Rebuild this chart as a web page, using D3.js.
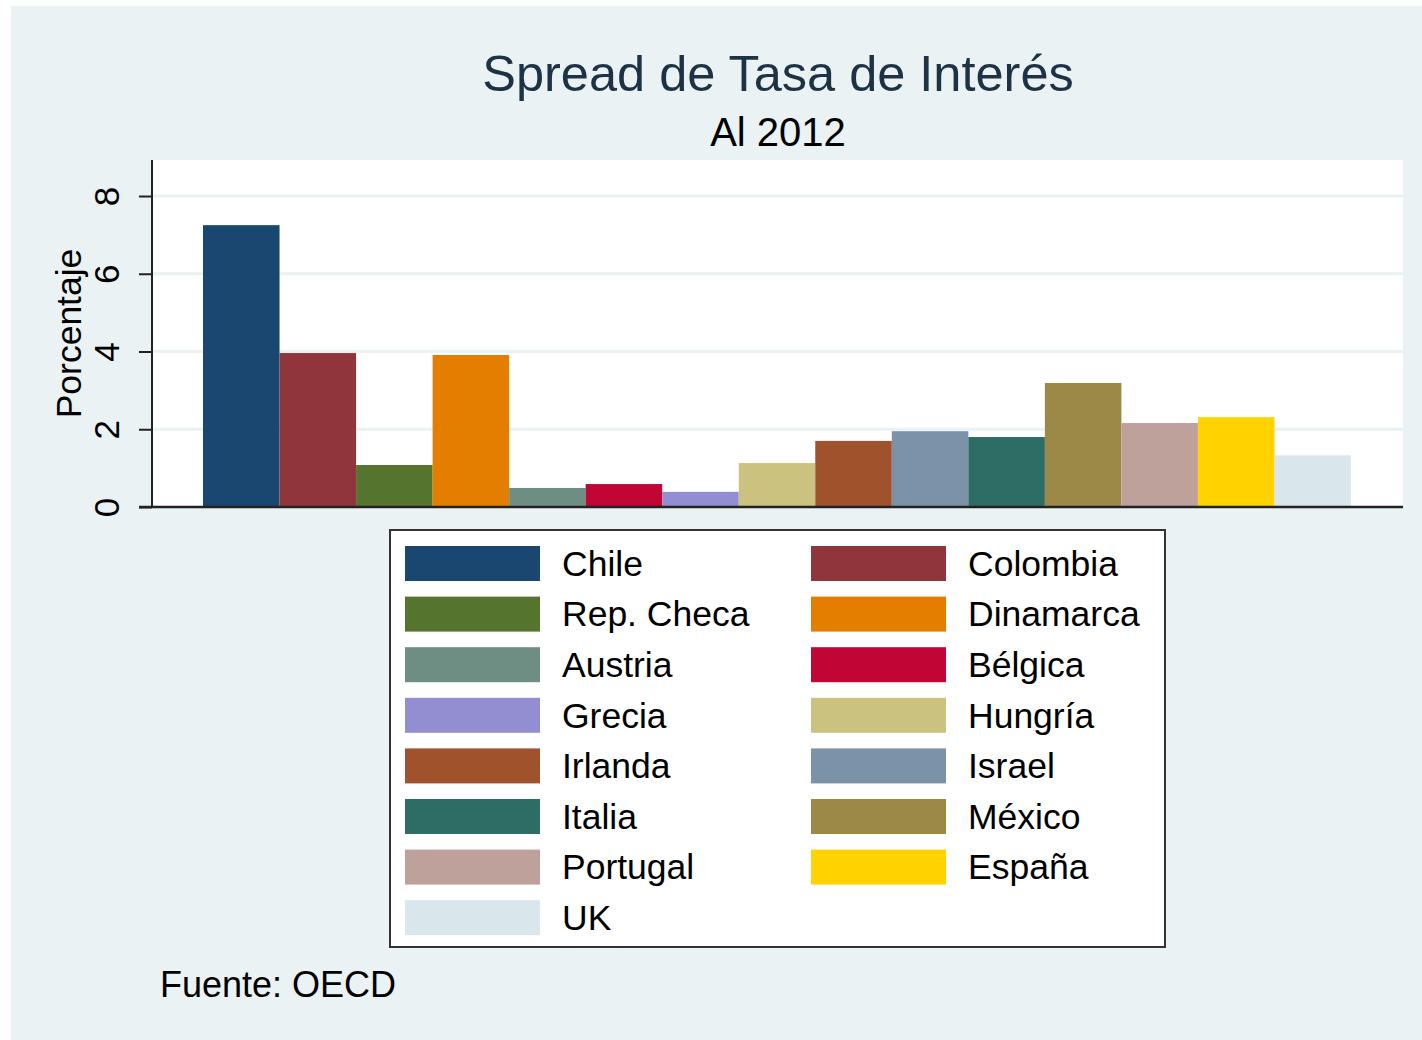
<!DOCTYPE html>
<html>
<head>
<meta charset="utf-8">
<script src="https://cdn.jsdelivr.net/npm/d3@7"></script>
<style>
  html, body { margin: 0; padding: 0; background: #fff; }
  svg { display: block; font-family: "Liberation Sans", Arial, sans-serif; }
</style>
</head>
<body>
<svg id="chart" width="1422" height="1040"></svg>
<script>
// Spread de tasa de interés, 2012 (OECD)
const countries = ["Chile", "Colombia", "Rep. Checa", "Dinamarca", "Austria", "Bélgica", "Grecia",
  "Hungría", "Irlanda", "Israel", "Italia", "México", "Portugal", "España", "UK"];
const spread = [7.25, 3.96, 1.08, 3.91, 0.49, 0.59, 0.39, 1.13, 1.70, 1.95, 1.80, 3.19, 2.16, 2.31, 1.33];
const colors = ["#1a476f", "#90353b", "#55752f", "#e37e00", "#6e8e84", "#c10534", "#938dd2",
  "#cac27e", "#a0522d", "#7b92a8", "#2d6d66", "#9c8847", "#bfa19c", "#ffd200", "#d9e6eb"];
const yTicks = [0, 2, 4, 6, 8];

const svg = d3.select('#chart');
const bg = '#eaf2f3';

// Outer background
svg.append('rect')
  .attr('x', 11).attr('y', 6)
  .attr('width', 1411).attr('height', 1034)
  .attr('fill', bg);

// Plot region
const plot = { left: 152, right: 1403, top: 160, bottom: 507 };

svg.append('rect')
  .attr('x', plot.left).attr('y', plot.top)
  .attr('width', plot.right - plot.left).attr('height', plot.bottom - plot.top)
  .attr('fill', '#fff');

const y = d3.scaleLinear().domain([0, 8]).range([507, 196]);
const x = d3.scaleBand().domain(countries).range([203, 1351]).padding(0);

// Gridlines
svg.append('g')
  .selectAll('line')
  .data(yTicks.filter(d => d > 0))
  .enter().append('line')
  .attr('x1', plot.left).attr('x2', plot.right)
  .attr('y1', d => y(d)).attr('y2', d => y(d))
  .attr('stroke', bg)
  .attr('stroke-width', 3);

// Bars
svg.append('g')
  .selectAll('rect')
  .data(countries)
  .enter().append('rect')
  .attr('x', d => x(d))
  .attr('y', (d, i) => y(spread[i]))
  .attr('width', x.bandwidth())
  .attr('height', (d, i) => y(0) - y(spread[i]))
  .attr('fill', (d, i) => colors[i]);

// Y axis
const yAxis = d3.axisLeft(y).tickValues(yTicks).tickSize(13).tickPadding(0).tickFormat(d3.format('d'));
const ya = svg.append('g')
  .attr('transform', `translate(${plot.left},0)`)
  .call(yAxis);
ya.select('.domain').remove();
ya.selectAll('.tick line').attr('stroke', '#222').attr('stroke-width', 2);
ya.selectAll('.tick text')
  .attr('x', null).attr('dy', null)
  .attr('text-anchor', 'middle')
  .attr('font-size', 35)
  .attr('fill', '#000')
  .attr('transform', 'translate(-45,0) rotate(-90)')
  .attr('dy', '0.35em');

svg.append('line')
  .attr('x1', plot.left).attr('x2', plot.left)
  .attr('y1', plot.top).attr('y2', plot.bottom)
  .attr('stroke', '#222').attr('stroke-width', 2);

svg.append('line')
  .attr('x1', plot.left - 13).attr('x2', plot.right)
  .attr('y1', plot.bottom).attr('y2', plot.bottom)
  .attr('stroke', '#222').attr('stroke-width', 2.5);

// Axis title
svg.append('text')
  .attr('transform', `translate(81,${(plot.top + plot.bottom) / 2}) rotate(-90)`)
  .attr('text-anchor', 'middle')
  .attr('font-size', 35.5)
  .text('Porcentaje');

// Titles
svg.append('text')
  .attr('x', 778).attr('y', 91)
  .attr('text-anchor', 'middle')
  .attr('font-size', 50.5)
  .attr('fill', '#1e3246')
  .text('Spread de Tasa de Interés');

svg.append('text')
  .attr('x', 778).attr('y', 146)
  .attr('text-anchor', 'middle')
  .attr('font-size', 40)
  .attr('fill', '#000')
  .text('Al 2012');

// Legend
const legend = svg.append('g');
legend.append('rect')
  .attr('x', 390).attr('y', 530)
  .attr('width', 775).attr('height', 417)
  .attr('fill', '#fff')
  .attr('stroke', '#333')
  .attr('stroke-width', 2);

const items = legend.selectAll('g.item')
  .data(countries)
  .enter().append('g')
  .attr('class', 'item')
  .attr('transform', (d, i) => `translate(${i % 2 === 0 ? 405 : 811},${563 + Math.floor(i / 2) * 50.6})`);

items.append('rect')
  .attr('x', 0).attr('y', -17)
  .attr('width', 135).attr('height', 35)
  .attr('fill', (d, i) => colors[i]);

items.append('text')
  .attr('x', 157).attr('y', 0)
  .attr('dy', '0.36em')
  .attr('font-size', 35.5)
  .text(d => d);

// Note
svg.append('text')
  .attr('x', 160).attr('y', 997)
  .attr('font-size', 36)
  .text('Fuente: OECD');
</script>
</body>
</html>
